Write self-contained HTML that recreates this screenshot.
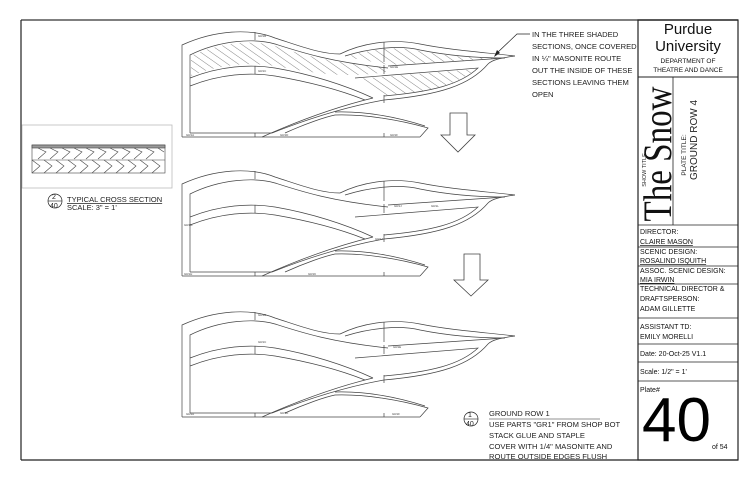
<!DOCTYPE html>
<html><head><style>
html,body{margin:0;padding:0;background:#fff;}
svg{display:block;font-family:"Liberation Sans",sans-serif;}
</style></head><body>
<svg width="750" height="485" viewBox="0 0 750 485" xmlns="http://www.w3.org/2000/svg">
<defs>
<pattern id="h" width="6" height="6" patternUnits="userSpaceOnUse" patternTransform="rotate(-55)">
<line x1="0" y1="0" x2="0" y2="6" stroke="#333" stroke-width="0.6"/>
</pattern>
<g id="gr" fill="none" stroke="#444" stroke-width="0.7">
<path d="M182,137 L182,45 C215,30 250,28 275,38 C300,46 320,54 340,54 C360,44 390,38 420,44 C450,50 480,52 515,56"/>
<path d="M190,133 L190,55 C220,40 255,38 275,44 C300,52 330,62 388,68"/>
<path d="M345,56 C370,48 400,45 420,50 C450,56 480,58 505,58 L388,66"/>
<path d="M515,56 C500,58 492,60 488,64 C470,85 440,95 384,100"/>
<path d="M355,78 L478,68 C460,85 430,92 384,96"/>
<path d="M190,78 C220,66 250,64 275,68 C310,74 345,85 373,98"/>
<path d="M190,86 C220,74 250,72 275,76 C310,82 340,90 365,100"/>
<path d="M384,100 C350,106 310,118 272,133"/>
<path d="M373,98 C340,106 300,120 262,137"/>
<path d="M285,133 C305,124 325,117 335,115 C365,114 400,120 428,128 L420,137"/>
<path d="M335,112 C370,111 400,118 425,126"/>
<line x1="182" y1="137" x2="420" y2="137"/>
<line x1="190" y1="133" x2="272" y2="133"/>
<line x1="255" y1="32" x2="255" y2="40"/><line x1="255" y1="66" x2="255" y2="74"/>
<line x1="384" y1="42" x2="384" y2="62"/><line x1="384" y1="65" x2="384" y2="74"/>
<line x1="384" y1="95" x2="384" y2="103"/><line x1="255" y1="133" x2="255" y2="137"/><line x1="384" y1="133" x2="384" y2="137"/>
</g>
</defs>

<line x1="21" y1="20" x2="738" y2="20" stroke="#555" stroke-width="1.5"/>
<line x1="21" y1="20" x2="21" y2="460" stroke="#222" stroke-width="1.2"/>
<line x1="21" y1="460" x2="738" y2="460" stroke="#222" stroke-width="1.2"/>
<rect x="638" y="20" width="100" height="440" fill="none" stroke="#222" stroke-width="1.2"/>

<g fill="url(#h)" stroke="none">
<path d="M191,56 C220,42 255,40 275,46 C300,54 330,63 386,67 L386,72 C340,80 300,70 275,66 C250,62 220,64 191,76Z"/>
<path d="M346,57 C370,49 400,46 420,51 C450,57 480,58 503,58 L390,65Z"/>
<path d="M357,79 L476,69 C458,84 430,92 386,95Z"/>
</g>
<use href="#gr"/>
<use href="#gr" transform="translate(0,139)"/>
<use href="#gr" transform="translate(0,280)"/>

<g font-size="3" fill="#444">
<text x="258" y="37">GR1B</text><text x="258" y="72">GR1C</text><text x="390" y="68">GR1E</text>
<text x="186" y="136">GR1A</text><text x="280" y="136">GR1D</text><text x="390" y="136">GR1F</text>
<text x="394" y="207">GR1J</text><text x="431" y="207">GR1L</text><text x="375" y="240">GR1J</text><text x="184" y="226">GR1G</text><text x="184" y="275">GR1H</text><text x="308" y="275">GR1K</text>
<text x="258" y="316">GR1B</text><text x="258" y="343">GR1C</text><text x="393" y="348">GR1E</text>
<text x="186" y="415">GR1A</text><text x="280" y="414">GR1D</text><text x="392" y="415">GR1F</text>
</g>

<g fill="#fff" stroke="#444" stroke-width="0.8">
<path d="M450,113 L467,113 L467,135 L475,135 L458,152 L441,135 L450,135Z"/>
<path d="M464,254 L480,254 L480,280 L488,280 L471,296 L454,280 L464,280Z"/>
</g>

<g font-size="7.6" fill="#222">
<text x="532" y="37">IN THE THREE SHADED</text>
<text x="532" y="49">SECTIONS, ONCE COVERED</text>
<text x="532" y="61">IN ¼" MASONITE ROUTE</text>
<text x="532" y="73">OUT THE INSIDE OF THESE</text>
<text x="532" y="85">SECTIONS LEAVING THEM</text>
<text x="532" y="97">OPEN</text>
</g>
<polyline points="530,34 517,34 497,53" fill="none" stroke="#222" stroke-width="0.7"/>
<path d="M494,57 L497,50 L500,53Z" fill="#222"/>

<rect x="22" y="125" width="150" height="63" fill="none" stroke="#bbb" stroke-width="0.8"/>
<g stroke="#444" stroke-width="0.6" fill="none">
<rect x="32" y="145" width="133" height="28"/>
<rect x="32" y="145" width="133" height="3" fill="#999"/>
<line x1="32" y1="160" x2="165" y2="160"/>
<path d="M38,148 l8,4 l-8,7 M50,148 l8,4 l-8,7 M62,148 l8,4 l-8,7 M74,148 l8,4 l-8,7 M86,148 l8,4 l-8,7 M98,148 l8,4 l-8,7 M110,148 l8,4 l-8,7 M122,148 l8,4 l-8,7 M134,148 l8,4 l-8,7 M146,148 l8,4 l-8,7 M158,148 l6,4"/>
<path d="M32,160 l8,6 l-8,7 M44,160 l8,6 l-8,7 M56,160 l8,6 l-8,7 M68,160 l8,6 l-8,7 M80,160 l8,6 l-8,7 M92,160 l8,6 l-8,7 M104,160 l8,6 l-8,7 M116,160 l8,6 l-8,7 M128,160 l8,6 l-8,7 M140,160 l8,6 l-8,7 M152,160 l8,6 l-8,7"/>
</g>
<circle cx="55" cy="201" r="7" fill="none" stroke="#222" stroke-width="0.7"/>
<line x1="48" y1="201" x2="62" y2="201" stroke="#222" stroke-width="0.6"/>
<g font-size="7" fill="#222"><text x="52" y="199">2</text><text x="50" y="208">40</text></g>
<g font-size="7.5" fill="#222">
<text x="67" y="202" text-decoration="underline">TYPICAL CROSS SECTION</text>
<text x="67" y="210">SCALE: 3" = 1'</text>
</g>

<circle cx="471" cy="419" r="7" fill="none" stroke="#222" stroke-width="0.7"/>
<line x1="464" y1="419" x2="478" y2="419" stroke="#222" stroke-width="0.6"/>
<g font-size="7" fill="#222"><text x="468" y="417">1</text><text x="466" y="426">40</text></g>
<line x1="489" y1="419" x2="600" y2="419" stroke="#222" stroke-width="0.6"/>
<g font-size="7.6" fill="#222">
<text x="489" y="416">GROUND ROW 1</text>
<text x="489" y="427">USE PARTS "GR1" FROM SHOP BOT</text>
<text x="489" y="438">STACK GLUE AND STAPLE</text>
<text x="489" y="449">COVER WITH 1/4" MASONITE AND</text>
<text x="489" y="459">ROUTE OUTSIDE EDGES FLUSH</text>
</g>

<g fill="#111" text-anchor="middle">
<text x="688" y="34" font-size="15">Purdue</text>
<text x="688" y="51" font-size="15">University</text>
<text x="688" y="63" font-size="6.5">DEPARTMENT OF</text>
<text x="688" y="72" font-size="6.5">THEATRE AND DANCE</text>
</g>
<line x1="638" y1="77" x2="738" y2="77" stroke="#222"/>
<line x1="673" y1="77" x2="673" y2="225" stroke="#222" stroke-width="0.8"/>
<text transform="translate(671,154) rotate(-90)" text-anchor="middle" font-family="Liberation Serif,serif" font-size="40" fill="#111" textLength="135" lengthAdjust="spacingAndGlyphs">The Snow</text>
<text transform="translate(646,170) rotate(-90)" text-anchor="middle" font-size="5.5" fill="#222">SHOW TITLE</text>
<text transform="translate(686,155) rotate(-90)" text-anchor="middle" font-size="6.5" fill="#222">PLATE TITLE:</text>
<text transform="translate(697,140) rotate(-90)" text-anchor="middle" font-size="10" fill="#222">GROUND ROW 4</text>
<g stroke="#222" stroke-width="0.8">
<line x1="638" y1="225" x2="738" y2="225"/>
<line x1="638" y1="247" x2="738" y2="247"/>
<line x1="638" y1="266" x2="738" y2="266"/>
<line x1="638" y1="284" x2="738" y2="284"/>
<line x1="638" y1="318" x2="738" y2="318"/>
<line x1="638" y1="344" x2="738" y2="344"/>
<line x1="638" y1="362" x2="738" y2="362"/>
<line x1="638" y1="381" x2="738" y2="381"/>
</g>
<g font-size="7" fill="#111">
<text x="640" y="234">DIRECTOR:</text>
<text x="640" y="244" text-decoration="underline">CLAIRE MASON</text>
<text x="640" y="254">SCENIC DESIGN:</text>
<text x="640" y="263" text-decoration="underline">ROSALIND ISQUITH</text>
<text x="640" y="273">ASSOC. SCENIC DESIGN:</text>
<text x="640" y="282" text-decoration="underline">MIA IRWIN</text>
<text x="640" y="291">TECHNICAL DIRECTOR &amp;</text>
<text x="640" y="301">DRAFTSPERSON:</text>
<text x="640" y="311">ADAM GILLETTE</text>
<text x="640" y="329">ASSISTANT TD:</text>
<text x="640" y="339">EMILY MORELLI</text>
<text x="640" y="356">Date:  20-Oct-25 V1.1</text>
<text x="640" y="374">Scale:  1/2" = 1'</text>
<text x="640" y="392">Plate#</text>
</g>
<text x="642" y="441" font-size="62" fill="#000">40</text>
<text x="712" y="449" font-size="7" fill="#111">of  54</text>
</svg>
</body></html>
